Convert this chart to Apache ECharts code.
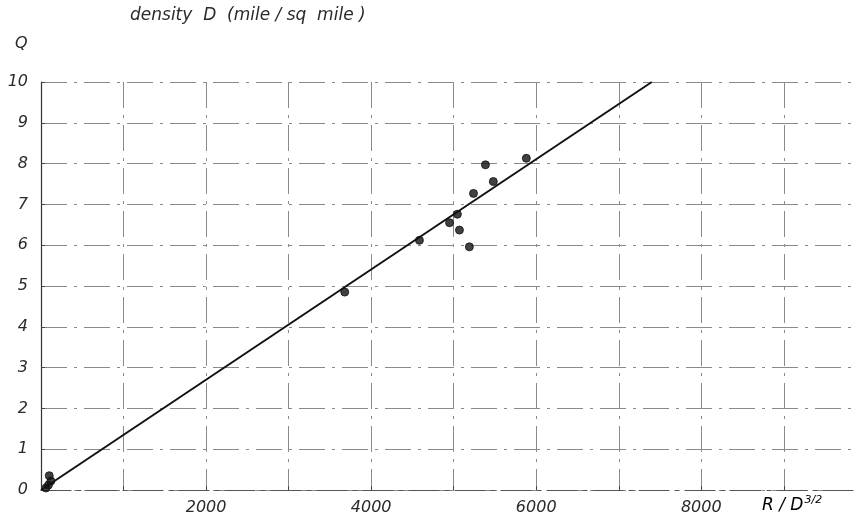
<!DOCTYPE html>
<html>
<head>
<meta charset="utf-8">
<script src="https://cdn.jsdelivr.net/npm/echarts@6/dist/echarts.min.js"></script>
<style>
  html, body { margin: 0; padding: 0; background: #fff; }
  #chart { width: 861px; height: 521px; }
</style>
</head>
<body>
<div id="chart"></div>
<script>
// Observed points: R / D^(3/2) against Q
const ratioValues = [60, 90, 100, 120, 3680, 4585, 4950, 5045, 5070, 5190, 5240, 5385, 5480, 5880];
const qValues     = [0.05, 0.12, 0.35, 0.22, 4.85, 6.12, 6.55, 6.76, 6.37, 5.96, 7.27, 7.97, 7.56, 8.13];

// Fitted straight line through the origin
const fitX = [0, 7400];
const fitY = [0, 10];

// Axis tick labels
const xLabelTicks = [2000, 4000, 6000, 8000];
const yTicks = [0, 1, 2, 3, 4, 5, 6, 7, 8, 9, 10];

const FONT = 'DejaVu Sans';
const labelFont = { fontFamily: FONT, fontStyle: 'italic', fontSize: 16, color: '#2a2a2a' };
const gridLine = { color: '#8a8a8a', width: 1, type: [26, 7, 3, 7] };

const chart = echarts.init(document.getElementById('chart'), null, { renderer: 'canvas' });

chart.setOption({
  animation: false,
  backgroundColor: '#fff',
  grid: { left: 41, top: 82, width: 813, height: 408, containLabel: false },
  xAxis: {
    type: 'value', min: 0, max: 9850, interval: 1000,
    axisLine: { show: true, onZero: false, lineStyle: { color: '#555', width: 1.2, type: [30, 6, 4, 6] } },
    axisTick: { show: true, length: 4, inside: true, lineStyle: { color: '#444' } },
    splitLine: { show: true, showMaxLine: false, lineStyle: gridLine },
    axisLabel: Object.assign({}, labelFont, {
      margin: 10,
      showMaxLabel: false,
      formatter: v => xLabelTicks.includes(v) ? String(v) : ''
    })
  },
  yAxis: {
    type: 'value', min: 0, max: 10, interval: 1,
    axisLine: { show: true, onZero: false, lineStyle: { color: '#333', width: 1.2 } },
    axisTick: { show: true, length: 4, inside: true, lineStyle: { color: '#444' } },
    splitLine: { show: true, lineStyle: gridLine },
    axisLabel: Object.assign({}, labelFont, {
      margin: 13,
      formatter: v => yTicks.includes(v) ? String(v) : ''
    })
  },
  graphic: [
    {
      type: 'text', left: 130, top: 7,
      style: { text: 'density  D  (mile / sq  mile )', fontFamily: FONT, fontStyle: 'italic', fontSize: 17, fill: '#2a2a2a' }
    },
    {
      type: 'text', left: 15, top: 36,
      style: { text: 'Q', fontFamily: FONT, fontStyle: 'italic', fontSize: 16, fill: '#2a2a2a' }
    },
    {
      type: 'text', left: 762, top: 495,
      style: {
        text: '{b|R / D}{s|3/2}',
        rich: {
          b: { fontFamily: FONT, fontStyle: 'italic', fontSize: 17, color: '#2a2a2a' },
          s: { fontFamily: FONT, fontStyle: 'italic', fontSize: 11, color: '#2a2a2a', verticalAlign: 'top', padding: [0, 0, 10, 1] }
        }
      }
    }
  ],
  series: [
    {
      type: 'line',
      data: fitX.map((x, i) => [x, fitY[i]]),
      symbol: 'none',
      lineStyle: { color: '#111', width: 2 },
      z: 3
    },
    {
      type: 'scatter',
      data: ratioValues.map((x, i) => [x, qValues[i]]),
      symbol: 'circle',
      symbolSize: 8,
      itemStyle: { color: '#111', borderColor: '#111', borderWidth: 1 },
      z: 4
    }
  ]
});
</script>
</body>
</html>
